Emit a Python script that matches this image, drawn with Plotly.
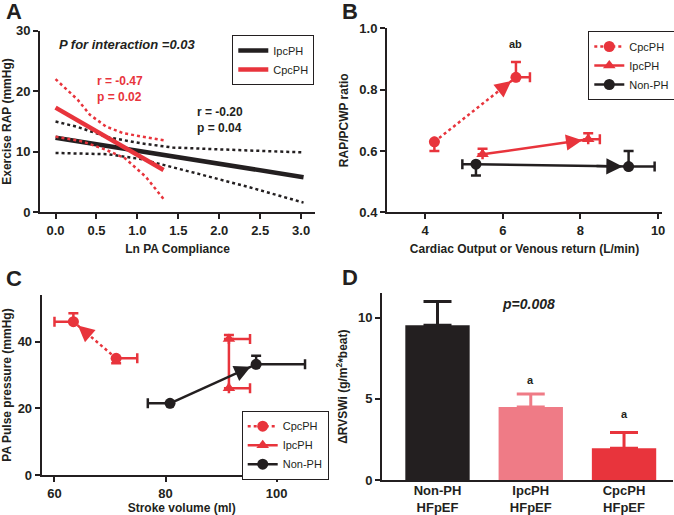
import plotly.graph_objects as go

BLACK = "#231f20"
RED = "#e8343c"
PINK = "#ef7b86"
FONT = "Liberation Sans, Arial, sans-serif"

# ---------------- Panel A data ----------------
a_ipc_x = [0.0, 3.03]
a_ipc_y = [12.3, 5.8]
a_ipc_ci_x = [0.0, 0.27, 0.64, 1.04, 1.43, 1.76, 2.38, 3.03]
a_ipc_upper = [15.0, 14.1, 12.4, 11.4, 10.7, 10.5, 10.2, 9.9]
a_ipc_lower_x = [0.0, 0.64, 1.04, 1.43, 1.76, 2.38, 3.03]
a_ipc_lower = [9.8, 9.6, 8.8, 7.5, 6.3, 4.1, 1.6]

a_cpc_x = [0.0, 1.32]
a_cpc_y = [17.3, 7.0]
a_cpc_up_x = [0.0, 0.27, 0.42, 0.62, 0.83, 1.32]
a_cpc_upper = [22.0, 18.6, 16.1, 14.15, 13.05, 11.9]
a_cpc_lo_x = [0.0, 0.33, 0.62, 0.85, 1.1, 1.32]
a_cpc_lower = [12.5, 11.7, 10.3, 8.9, 5.9, 2.2]

# ---------------- Panel B data ----------------
b_cpc_x = [4.24, 6.34]
b_cpc_y = [0.63, 0.84]
b_cpc_yp = [0.0, 0.05]
b_cpc_ym = [0.03, 0.0]
b_cpc_xp = [0.0, 0.36]
b_cpc_xm = [0.0, 0.0]

b_ipc_x = [5.48, 8.2]
b_ipc_y = [0.589, 0.638]
b_ipc_yp = [0.018, 0.02]
b_ipc_ym = [0.0, 0.0]
b_ipc_xp = [0.0, 0.3]
b_ipc_xm = [0.0, 0.0]

b_non_x = [5.31, 9.24]
b_non_y = [0.557, 0.549]
b_non_yp = [0.0, 0.051]
b_non_ym = [0.037, 0.0]
b_non_xp = [0.0, 0.67]
b_non_xm = [0.35, 0.0]

# ---------------- Panel C data ----------------
c_cpc_x = [71.1, 63.4]
c_cpc_y = [35.0, 46.0]
c_cpc_yp = [0.0, 2.5]
c_cpc_ym = [1.5, 0.0]
c_cpc_xp = [3.8, 0.0]
c_cpc_xm = [0.0, 3.4]

c_ipc_x = [91.4, 91.4]
c_ipc_y = [26.0, 40.8]
c_ipc_yp = [0.0, 1.2]
c_ipc_ym = [0.0, 0.0]
c_ipc_xp = [3.8, 3.8]
c_ipc_xm = [0.0, 0.0]

c_non_x = [80.8, 96.3]
c_non_y = [21.5, 33.2]
c_non_yp = [0.0, 2.6]
c_non_ym = [0.0, 0.0]
c_non_xp = [0.0, 8.8]
c_non_xm = [4.0, 0.0]

# ---------------- Panel D data ----------------
d_labels = ["Non-PH<br>HFpEF", "IpcPH<br>HFpEF", "CpcPH<br>HFpEF"]
d_values = [9.53, 4.5, 1.95]
d_errors = [1.47, 0.79, 0.98]
d_colors = [BLACK, PINK, RED]

fig = go.Figure()

# ---- Panel A traces ----
def line(x, y, color, width, dash, showlegend=False, name=None, legend=None):
    return go.Scatter(x=x, y=y, mode="lines", line=dict(color=color, width=width, dash=dash),
                      showlegend=showlegend, name=name, legend=legend, xaxis="x", yaxis="y",
                      hoverinfo="skip")

fig.add_trace(line(a_ipc_ci_x, a_ipc_upper, BLACK, 2.5, "dot"))
fig.add_trace(line(a_ipc_lower_x, a_ipc_lower, BLACK, 2.5, "dot"))
fig.add_trace(line(a_ipc_x, a_ipc_y, BLACK, 4.5, "solid", True, "IpcPH", "legend"))
fig.add_trace(line(a_cpc_up_x, a_cpc_upper, RED, 2.5, "dot"))
fig.add_trace(line(a_cpc_lo_x, a_cpc_lower, RED, 2.5, "dot"))
fig.add_trace(line(a_cpc_x, a_cpc_y, RED, 4.5, "solid", True, "CpcPH", "legend"))

# ---- Panel B / C traces ----
def group(x, y, yp, ym, xp, xm, color, dash, symbol, name, xa, ya, legend):
    return go.Scatter(
        x=x, y=y, mode="lines+markers", name=name, legend=legend,
        xaxis=xa, yaxis=ya,
        line=dict(color=color, width=2.5, dash=dash),
        marker=dict(color=color, size=11, symbol=symbol),
        error_y=dict(type="data", symmetric=False, array=yp, arrayminus=ym,
                     color=color, thickness=2.5, width=5),
        error_x=dict(type="data", symmetric=False, array=xp, arrayminus=xm,
                     color=color, thickness=2.5, width=5),
    )

fig.add_trace(group(b_cpc_x, b_cpc_y, b_cpc_yp, b_cpc_ym, b_cpc_xp, b_cpc_xm, RED, "dot", "circle", "CpcPH", "x2", "y2", "legend2"))
fig.add_trace(group(b_ipc_x, b_ipc_y, b_ipc_yp, b_ipc_ym, b_ipc_xp, b_ipc_xm, RED, "solid", "triangle-up", "IpcPH", "x2", "y2", "legend2"))
fig.add_trace(group(b_non_x, b_non_y, b_non_yp, b_non_ym, b_non_xp, b_non_xm, BLACK, "solid", "circle", "Non-PH", "x2", "y2", "legend2"))

fig.add_trace(group(c_cpc_x, c_cpc_y, c_cpc_yp, c_cpc_ym, c_cpc_xp, c_cpc_xm, RED, "dot", "circle", "CpcPH", "x3", "y3", "legend3"))
fig.add_trace(group(c_ipc_x, c_ipc_y, c_ipc_yp, c_ipc_ym, c_ipc_xp, c_ipc_xm, RED, "solid", "triangle-up", "IpcPH", "x3", "y3", "legend3"))
fig.add_trace(group(c_non_x, c_non_y, c_non_yp, c_non_ym, c_non_xp, c_non_xm, BLACK, "solid", "circle", "Non-PH", "x3", "y3", "legend3"))

# ---- Panel D ----
fig.add_trace(go.Bar(
    x=list(range(len(d_values))), y=d_values, width=0.69,
    marker=dict(color=d_colors, line=dict(width=0)),
    xaxis="x4", yaxis="y4", showlegend=False,
))
# error bars, each in its bar's colour
for i in range(len(d_values)):
    fig.add_trace(go.Scatter(
        x=[i], y=[d_values[i]], mode="markers", marker=dict(size=1, opacity=0),
        error_y=dict(type="data", symmetric=False, array=[d_errors[i]], arrayminus=[0],
                     color=d_colors[i], thickness=3, width=14),
        xaxis="x4", yaxis="y4", showlegend=False, hoverinfo="skip"))

# ---- arrows ----
annotations = []
def arrow(xs, ys, color, xa, ya, frac=0.22, standoff=6):
    hx, hy = xs[1], ys[1]
    tx = hx - frac * (xs[1] - xs[0])
    ty = hy - frac * (ys[1] - ys[0])
    annotations.append(dict(x=hx, y=hy, ax=tx, ay=ty, xref=xa, yref=ya, axref=xa, ayref=ya,
                            showarrow=True, arrowhead=2, arrowsize=1.3, arrowwidth=2.5,
                            arrowcolor=color, standoff=standoff, text=""))

arrow(b_cpc_x, b_cpc_y, RED, "x2", "y2")
arrow(b_ipc_x, b_ipc_y, RED, "x2", "y2")
arrow(b_non_x, b_non_y, BLACK, "x2", "y2")
arrow(c_cpc_x, c_cpc_y, RED, "x3", "y3")
arrow(c_ipc_x, c_ipc_y, RED, "x3", "y3")
arrow(c_non_x, c_non_y, BLACK, "x3", "y3")

def txt(x, y, text, xref, yref, size=12, color=BLACK, italic=False, bold=True, xanchor="center"):
    annotations.append(dict(x=x, y=y, xref=xref, yref=yref, text=text, showarrow=False,
                            xanchor=xanchor, yanchor="middle", align="left",
                            font=dict(family=FONT, size=size, color=color,
                                      weight="bold" if bold else "normal",
                                      style="italic" if italic else "normal")))

txt(0.87, 27.65, "P for interaction =0.03", "x", "y", size=13, italic=True)
txt(0.48, 20.4, "r = -0.47<br>p = 0.02", "x", "y", size=12, color=RED, xanchor="left")
txt(1.70, 15.3, "r = -0.20<br>p = 0.04", "x", "y", size=12, xanchor="left")
txt(6.34, 0.948, "ab", "x2", "y2", size=11)
txt(0.977, 10.86, "p=0.008", "x4", "y4", size=14, italic=True)
txt(1, 6.15, "a", "x4", "y4", size=11)
txt(2, 4.06, "a", "x4", "y4", size=11)

for lab, px, py in [("A", 14, 12), ("B", 350, 12), ("C", 14, 278), ("D", 350, 277)]:
    annotations.append(dict(x=px / 674, y=1 - py / 515, xref="paper", yref="paper", text=lab,
                            showarrow=False, xanchor="center", yanchor="middle",
                            font=dict(family=FONT, size=22, color=BLACK, weight="bold")))

def axis(domain, rng, title, anchor, tickvals=None, tickformat=None, standoff=8, ticks="outside"):
    d = dict(domain=domain, range=rng, anchor=anchor, showline=True, linecolor=BLACK, linewidth=2,
             ticks=ticks, ticklen=5, tickwidth=2, tickcolor=BLACK, showgrid=False, zeroline=False,
             automargin=False,
             tickfont=dict(family=FONT, size=13, color=BLACK, weight="bold"))
    if title:
        d["title"] = dict(text=title, standoff=standoff,
                          font=dict(family=FONT, size=12, color=BLACK, weight="bold"))
    if tickvals is not None:
        d["tickmode"] = "array"
        d["tickvals"] = tickvals
    if tickformat:
        d["tickformat"] = tickformat
    return d

W, H = 674, 515
def dx(a, b):
    return [a / W, b / W]
def dy(top, bottom):
    return [1 - bottom / H, 1 - top / H]

legend_common = dict(bgcolor="white", bordercolor=BLACK, borderwidth=1,
                     font=dict(family=FONT, size=11, color=BLACK),
                     xanchor="left", yanchor="top", itemwidth=30, tracegroupgap=0)

fig.update_layout(
    width=W, height=H, margin=dict(l=0, r=0, t=0, b=0, autoexpand=False),
    paper_bgcolor="white", plot_bgcolor="white",
    xaxis=axis(dx(40, 315), [-0.19, 3.17], "Ln PA Compliance", "y",
               tickvals=[0, 0.5, 1.0, 1.5, 2.0, 2.5, 3.0], tickformat=".1f"),
    yaxis=axis(dy(30.7, 212.3), [0, 30], "Exercise RAP (mmHg)", "x", tickvals=[0, 10, 20, 30]),
    xaxis2=axis(dx(387, 662), [3.02, 10.1], "Cardiac Output or Venous return (L/min)", "y2",
                tickvals=[4, 6, 8, 10]),
    yaxis2=axis(dy(28.3, 212.3), [0.4, 1.0], "RAP/PCWP ratio", "x2",
                tickvals=[0.4, 0.6, 0.8, 1.0], tickformat=".1f"),
    xaxis3=axis(dx(41.7, 321.7), [57.7, 108.1], "Stroke volume (ml)", "y3", tickvals=[60, 80, 100]),
    yaxis3=axis(dy(295, 475), [0, 54], "PA Pulse pressure (mmHg)", "x3", tickvals=[0, 20, 40]),
    xaxis4=axis(dx(382, 673), [-0.595, 2.525], None, "y4", tickvals=[0, 1, 2], ticks=""),
    yaxis4=axis(dy(293.3, 480), [0, 11.5], "ΔRVSWi (g/m<sup>2</sup>*beat)", "x4", tickvals=[0, 5, 10]),
    legend=dict(x=232.3 / W, y=1 - 35 / H, **legend_common),
    legend2=dict(x=588.3 / W, y=1 - 31 / H, **legend_common),
    legend3=dict(x=241.7 / W, y=1 - 410.7 / H, **legend_common),
    annotations=annotations,
)
fig.layout.xaxis4.ticktext = d_labels
fig.layout.xaxis4.tickfont.size = 13
fig.layout.xaxis4.ticklabelstandoff = -3

fig.write_html("out.html", config={"displayModeBar": False},
               post_script="document.body.style.margin='0';document.body.style.overflow='hidden';")
